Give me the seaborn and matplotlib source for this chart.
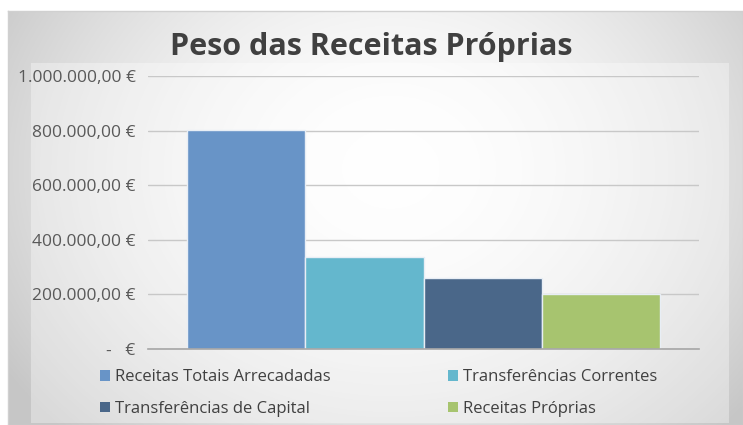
import numpy as np
import pandas as pd
import matplotlib
matplotlib.use("Agg")
import matplotlib.pyplot as plt
import matplotlib.patches as mpatches
from matplotlib.ticker import FixedLocator
import seaborn as sns

# ---- data ----
series = ["Receitas Totais Arrecadadas", "Transferências Correntes",
          "Transferências de Capital", "Receitas Próprias"]
values = [803000, 338000, 261000, 200000]
colors = ["#6894c7", "#64b7cd", "#4a6789", "#a7c46f"]
yticks = [0, 200000, 400000, 600000, 800000, 1000000]
ytick_labels = ["-   €", "200.000,00 €", "400.000,00 €", "600.000,00 €",
                "800.000,00 €", "1.000.000,00 €"]
title = "Peso das Receitas Próprias"

df = pd.DataFrame({"grupo": [""] * len(series), "serie": series, "valor": values})

sns.set_theme(style="white")
plt.rcParams["font.family"] = ["Open Sans", "DejaVu Sans"]

W, H = 743, 425
fig = plt.figure(figsize=(W / 100, H / 100), dpi=100)
fig.patch.set_facecolor("white")

# background gradient panel
bg = fig.add_axes([8 / W, 0, 1 - 8 / W, 1 - 11 / H], zorder=-10)
ny, nx = 300, 600
yy, xx = np.mgrid[0:ny, 0:nx]
cx, cy = nx * 0.52, ny * 0.38
r = np.sqrt(((xx - cx) / (nx * 0.62)) ** 2 + ((yy - cy) / (ny * 0.9)) ** 2)
g = 1.0 - 0.22 * np.clip(r, 0, 1) ** 1.8
bg.imshow(np.dstack([g, g, g]), aspect="auto", extent=[0, 1, 0, 1], origin="upper")
bg.set_xticks([]); bg.set_yticks([])
for s in bg.spines.values():
    s.set_color("#d0d0d0"); s.set_linewidth(1.0)

# legend panel
fig.patches.append(mpatches.Rectangle((31 / W, 2 / H), (729 - 31) / W, (362 - 2) / H,
                                      transform=fig.transFigure, facecolor="white",
                                      alpha=0.35, edgecolor="none", zorder=-5))

ax = fig.add_axes([148 / W, (H - 349) / H, (699 - 148) / W, (349 - 76) / H])
ax.patch.set_alpha(0)
sns.barplot(data=df, x="grupo", y="valor", hue="serie", hue_order=series,
            palette=colors, width=0.857, gap=0, ax=ax, legend=False,
            saturation=1, edgecolor="#e8eef5", linewidth=1.0, errorbar=None)
for p in ax.patches:
    p.set_alpha(1.0)
ax.set_xlim(-0.5, 0.5)
ax.set_ylim(0, 1000000)
ax.yaxis.set_major_locator(FixedLocator(yticks))
ax.set_yticklabels(ytick_labels)
ax.set_xticks([])
ax.set_xlabel(""); ax.set_ylabel("")
ax.tick_params(axis="y", length=0, pad=9, labelsize=12.5, labelcolor="#595959")
for s in ["top", "right", "left"]:
    ax.spines[s].set_visible(False)
ax.spines["bottom"].set_color("#a6a6a6")
ax.spines["bottom"].set_linewidth(1.2)
ax.grid(axis="y", color="#c8c8c8", linewidth=1.0)
ax.set_axisbelow(True)

fig.text(0.5, (H - 47) / H, title, ha="center", va="center", fontsize=22,
         fontweight="bold", color="#404040")

handles = [mpatches.Patch(facecolor=c, edgecolor="none") for c in colors]
order = [0, 2, 1, 3]  # row-wise display in 2 columns
leg = fig.legend([handles[i] for i in order], [series[i] for i in order],
                 loc="center", bbox_to_anchor=((W / 2 + 7) / W, (H - 393) / H),
                 ncol=2, frameon=False, fontsize=12, handlelength=0.6,
                 handleheight=0.6, handletextpad=0.3, columnspacing=7.0,
                 labelspacing=0.95)
for t in leg.get_texts():
    t.set_color("#404040")

fig.savefig("out.png", dpi=100)
